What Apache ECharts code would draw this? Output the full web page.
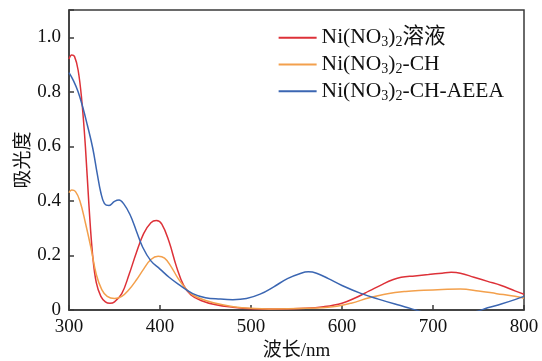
<!DOCTYPE html>
<html>
<head>
<meta charset="utf-8">
<script src="https://cdn.jsdelivr.net/npm/echarts@6/dist/echarts.min.js"></script>
<style>html,body{margin:0;padding:0;background:#fff}#chart{width:542px;height:361px}</style>
</head>
<body>
<div id="chart"></div>
<script>
// 波长 (nm) 与吸光度
var wlRed=[300,303,306,310,314,318,322,326,330,335,340,345,350,358,366,374,382,390,396,402,410,418,426,434,445,460,480,500,530,560,580,600,615,630,645,655,665,680,695,710,720,730,745,760,775,790,800]
var absRed=[0.92,0.935,0.93,0.88,0.77,0.60,0.38,0.20,0.10,0.05,0.03,0.025,0.03,0.06,0.13,0.21,0.28,0.32,0.328,0.315,0.25,0.16,0.09,0.055,0.035,0.02,0.01,0.005,0.004,0.006,0.012,0.025,0.045,0.07,0.095,0.11,0.12,0.125,0.13,0.135,0.138,0.135,0.12,0.105,0.09,0.07,0.058]
var wlOrange=[300,303,307,312,318,324,330,336,342,350,358,366,374,382,390,398,405,412,420,428,436,450,470,490,520,560,590,610,630,650,670,690,710,730,750,770,790,800]
var absOrange=[0.43,0.44,0.435,0.40,0.32,0.23,0.13,0.075,0.05,0.042,0.05,0.075,0.11,0.15,0.185,0.197,0.19,0.16,0.115,0.08,0.055,0.035,0.018,0.008,0.004,0.006,0.012,0.025,0.045,0.06,0.068,0.072,0.075,0.077,0.07,0.06,0.05,0.043]
var wlBlue=[300,305,310,315,320,326,331,335,339,344,350,355,360,367,374,381,390,400,410,420,436,450,466,480,495,510,525,540,555,563,572,585,600,620,640,660,675,690,710,730,748,760,775,790,800]
var absBlue=[0.87,0.84,0.80,0.745,0.68,0.595,0.50,0.43,0.39,0.383,0.398,0.403,0.39,0.35,0.29,0.23,0.18,0.15,0.12,0.095,0.06,0.045,0.04,0.038,0.042,0.058,0.085,0.115,0.135,0.14,0.135,0.115,0.09,0.062,0.04,0.02,0.006,-0.008,-0.015,-0.015,-0.005,0.008,0.022,0.038,0.05]
var names=['Ni(NO3)2溶液','Ni(NO3)2-CH','Ni(NO3)2-CH-AEEA']
var labels={'Ni(NO3)2溶液':'Ni(NO{s|3}){s|2}溶液','Ni(NO3)2-CH':'Ni(NO{s|3}){s|2}-CH','Ni(NO3)2-CH-AEEA':'Ni(NO{s|3}){s|2}-CH-AEEA'}

function pairs(x,y){
	var d=[]
	for(var i=0;i<x.length;i++){d.push([x[i],y[i]])}
	return d
}
var font='"Liberation Serif","Noto Sans CJK SC",serif'
var mychart=echarts.init(document.getElementById('chart'))
var axisLine={lineStyle:{color:'#3a3a3a',width:1.5}}
var option={
	animation:false,
	color:['#dd3138','#f3a04c','#3b66b2'],
	textStyle:{fontFamily:font},
	grid:{left:69,right:18,top:10,bottom:51,outerBoundsMode:'none',containLabel:false,show:true,borderColor:'#3a3a3a',borderWidth:1.5},
	legend:{
		data:names,
		orient:'vertical',
		right:33,
		top:22,
		itemWidth:38,
		itemHeight:2,
		itemGap:4,
		icon:'rect',
		formatter:function(n){return labels[n]},
		textStyle:{fontFamily:font,fontSize:21.5,color:'#111',rich:{s:{fontSize:14,fontFamily:font,verticalAlign:'bottom',padding:[10,0,0,0],color:'#111'}}}
	},
	xAxis:{
		type:'value',
		min:300,max:800,interval:100,
		name:'波长/nm',nameLocation:'middle',nameGap:30,
		nameTextStyle:{fontFamily:font,fontSize:19,color:'#111'},
		axisLine:axisLine,
		axisTick:{inside:true,length:5,lineStyle:{color:'#3a3a3a',width:1.5}},
		axisLabel:{fontFamily:font,fontSize:19,color:'#111',margin:8},
		splitLine:{show:false}
	},
	yAxis:{
		type:'value',
		min:0,max:1.1,interval:0.2,
		name:'吸光度',nameLocation:'middle',nameGap:35,nameMoveOverlap:false,
		nameTextStyle:{fontFamily:font,fontSize:19,color:'#111'},
		axisLine:axisLine,
		axisTick:{inside:true,length:5,lineStyle:{color:'#3a3a3a',width:1.5}},
		axisLabel:{fontFamily:font,fontSize:19,color:'#111',margin:8,
			formatter:function(v){if(v>1.05)return '';return v===0?'0':v.toFixed(1)}},
		splitLine:{show:false}
	},
	series:[
		{name:names[0],type:'line',data:pairs(wlRed,absRed),smooth:0.4,showSymbol:false,clip:true,lineStyle:{width:1.5}},
		{name:names[1],type:'line',data:pairs(wlOrange,absOrange),smooth:0.4,showSymbol:false,clip:true,lineStyle:{width:1.5}},
		{name:names[2],type:'line',data:pairs(wlBlue,absBlue),smooth:0.4,showSymbol:false,clip:true,lineStyle:{width:1.5}}
	]
}
mychart.setOption(option)
</script>
</body>
</html>
